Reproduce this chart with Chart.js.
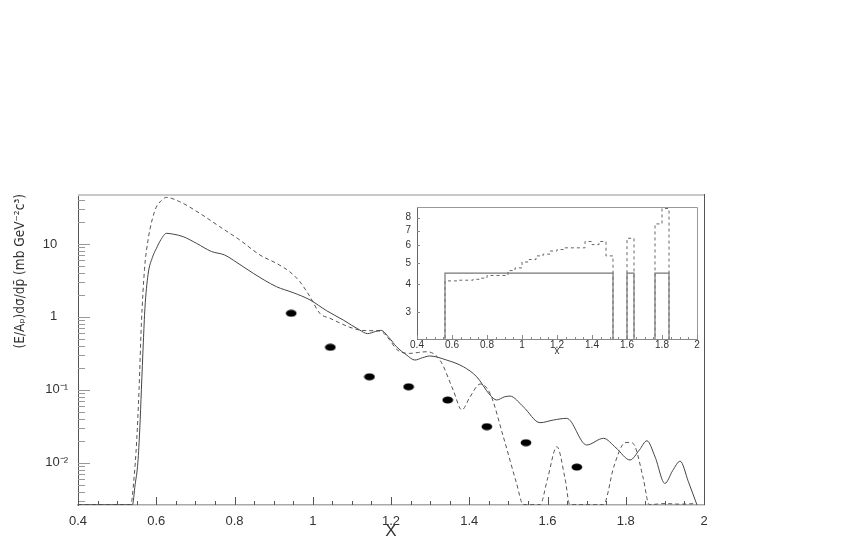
<!DOCTYPE html>
<html><head><meta charset="utf-8">
<script src="https://cdn.jsdelivr.net/npm/chart.js@4"></script>
<style>
html,body{margin:0;padding:0;background:#fff;}
#wrap{position:relative;width:845px;height:545px;overflow:hidden;}
#main{position:absolute;left:0;top:0;}
#inset{position:absolute;left:380px;top:195px;}
</style></head><body>
<div id="wrap"><canvas id="main" width="845" height="545"></canvas><canvas id="inset" width="330" height="165"></canvas></div>
<script>
// ---------- main plot data ----------
const solidX = [0.40,0.539,0.546,0.553,0.558,0.562,0.567,0.571,0.579,0.590,0.600,0.612,0.626,0.645,0.669,0.703,0.741,0.775,0.797,0.848,0.907,0.950,0.993,1.035,1.078,1.120,1.140,1.160,1.174,1.195,1.214,1.240,1.261,1.280,1.299,1.342,1.385,1.419,1.453,1.470,1.490,1.504,1.538,1.581,1.615,1.649,1.700,1.743,1.775,1.811,1.835,1.854,1.875,1.900,1.920,1.939,1.960,1.982];
const solidY = [0.00264,0.00264,0.005,0.010,0.030,0.10,0.45,1.30,3.8,6.5,8.6,11.5,14.0,13.6,12.6,10.2,7.9,7.06,6.0,3.96,2.6,2.15,1.71,1.22,0.906,0.66,0.59,0.63,0.655,0.52,0.39,0.30,0.256,0.275,0.291,0.256,0.207,0.151,0.085,0.0725,0.080,0.082,0.0587,0.0354,0.0385,0.0406,0.0175,0.0216,0.016,0.0109,0.015,0.020,0.012,0.0052,0.0078,0.0105,0.0055,0.00264];

const dashedX = [0.40,0.535,0.543,0.550,0.556,0.562,0.570,0.579,0.590,0.600,0.612,0.626,0.660,0.711,0.762,0.813,0.865,0.907,0.941,0.967,0.993,1.018,1.044,1.095,1.120,1.146,1.172,1.197,1.214,1.248,1.270,1.291,1.325,1.359,1.381,1.402,1.428,1.453,1.487,1.521,1.538,1.581,1.600,1.624,1.645,1.657,1.743,1.770,1.798,1.812,1.824,1.845,1.860,1.900,1.940,1.980];
const dashedY = [0.00266,0.00266,0.006,0.020,0.10,0.80,4.5,11.3,22,32,39,43.6,38,26.4,17.3,11.4,7.07,5.43,4.17,3.04,1.89,1.12,0.957,0.72,0.66,0.647,0.64,0.48,0.36,0.316,0.325,0.333,0.256,0.099,0.053,0.080,0.120,0.0895,0.0228,0.0052,0.00266,0.00266,0.006,0.0166,0.006,0.00266,0.00266,0.009,0.0188,0.019,0.0166,0.006,0.00266,0.00275,0.0027,0.00275];

const pointsX = [0.945,1.045,1.145,1.245,1.345,1.445,1.545,1.675];
const pointsY = [1.12,0.383,0.151,0.110,0.0724,0.0312,0.0188,0.0087];

const xTickValues = [0.4,0.6,0.8,1.0,1.2,1.4,1.6,1.8,2.0];
const xTickLabels = ['0.4','0.6','0.8','1','1.2','1.4','1.6','1.8','2'];
const yTickValues = [0.01,0.1,1,10];
const yTickLabels = ['10\u207B\u00B2','10\u207B\u00B9','1   ','10   '];
const yTitle = '(E/A\u209A)d\u03C3/dp\u0304 (mb GeV\u207B\u00B2c\u00B3)';
const xTitle = 'X';

// ---------- inset data (histograms, step at bin edges) ----------
const insetSolidX = [0.40,0.56,1.52,1.60,1.64,1.76,1.84,2.00];
const insetSolidY = [0,4.5,0,4.5,0,4.5,0,0];
const insetDashedX = [0.40,0.56,0.64,0.72,0.76,0.80,0.92,0.96,1.00,1.04,1.08,1.12,1.16,1.20,1.24,1.36,1.40,1.44,1.48,1.52,1.60,1.64,1.76,1.80,1.84,2.00];
const insetDashedY = [0,4.15,4.18,4.22,4.27,4.39,4.62,4.75,5.05,5.18,5.38,5.48,5.66,5.75,5.85,6.25,6.05,6.25,5.38,0,6.46,0,7.5,8.8,0,0];
const insetXTickValues = [0.4,0.6,0.8,1.0,1.2,1.4,1.6,1.8,2.0];
const insetXTickLabels = ['0.4','0.6','0.8','1','1.2','1.4','1.6','1.8','2'];
const insetYTickValues = [3,4,5,6,7,8];
const insetYTickLabels = ['3','4','5','6','7','8'];
const insetXTitle = 'x';

const FONT = "'Liberation Sans', Arial, Helvetica, sans-serif";
const TXT = '#333';

// ellipse marker
const dot = document.createElement('canvas');
dot.width = 12; dot.height = 8;
(function(){const c=dot.getContext('2d');c.fillStyle='#000';c.beginPath();c.ellipse(6,4,5.4,3.5,0,0,Math.PI*2);c.fill();})();

const zip = (xs, ys) => xs.map((x,i)=>({x:x, y:ys[i]}));

const mainFrame = {
  id:'mainFrame',
  afterDatasetsDraw(chart){
    const ctx = chart.ctx, a = chart.chartArea, xs = chart.scales.x, ys = chart.scales.y;
    ctx.save();
    ctx.strokeStyle = '#c8c8c8'; ctx.lineWidth = 2;
    ctx.beginPath(); ctx.moveTo(a.left, a.top+1); ctx.lineTo(a.right, a.top+1); ctx.stroke();
    ctx.strokeStyle = '#555'; ctx.lineWidth = 1;
    ctx.beginPath(); ctx.moveTo(a.right+0.5, a.top); ctx.lineTo(a.right+0.5, a.bottom); ctx.stroke();
    ctx.strokeStyle = '#999'; ctx.lineWidth = 1;
    for (let d=-3; d<=1; d++){
      for (let m=1; m<=9; m++){
        const v = m*Math.pow(10,d);
        if (v < ys.min || v > ys.max) continue;
        const py = Math.round(ys.getPixelForValue(v))+0.5;
        const len = m===1 ? 12 : 7;
        ctx.beginPath(); ctx.moveTo(a.left, py); ctx.lineTo(a.left+len, py); ctx.stroke();
      }
    }
    ctx.strokeStyle = '#555';
    for (let k=8; k<=40; k++){
      const v = k*0.05;
      const px = Math.round(xs.getPixelForValue(v))+0.5;
      const len = (k%4===0) ? 8 : 4;
      ctx.beginPath(); ctx.moveTo(px, a.bottom); ctx.lineTo(px, a.bottom-len); ctx.stroke();
    }
    ctx.restore();
  }
};

new Chart(document.getElementById('main'), {
  type:'line',
  data:{datasets:[
    {label:'solid', data:zip(solidX, solidY), borderColor:'#444', borderWidth:1, pointRadius:0, fill:false, cubicInterpolationMode:'monotone'},
    {label:'dashed', data:zip(dashedX, dashedY), borderColor:'#555', borderWidth:1, borderDash:[4,3], pointRadius:0, fill:false, cubicInterpolationMode:'monotone'},
    {label:'data', data:zip(pointsX, pointsY), showLine:false, pointStyle:dot, pointRadius:5, borderWidth:0, backgroundColor:'#000'}
  ]},
  options:{
    responsive:false, devicePixelRatio:1, animation:false,
    layout:{padding:{top:194, right:141, left:0, bottom:0}},
    plugins:{legend:{display:false}, tooltip:{enabled:false}},
    scales:{
      x:{type:'linear', min:0.4, max:2,
        afterBuildTicks:s=>{s.ticks = xTickValues.map(v=>({value:v}));},
        afterFit:s=>{s.height = 40;},
        ticks:{callback:(v,i)=>xTickLabels[i], autoSkip:false, maxRotation:0, padding:9, color:TXT, font:{family:FONT, size:13}},
        grid:{display:false, drawTicks:false},
        border:{display:true, color:'#aaa', width:1.5},
        title:{display:true, text:xTitle, color:TXT, font:{family:FONT, size:17}, padding:{top:0, bottom:3}}
      },
      y:{type:'logarithmic', min:0.00263, max:48.5,
        afterBuildTicks:s=>{s.ticks = yTickValues.map(v=>({value:v}));},
        afterFit:s=>{s.width = 78;},
        ticks:{callback:(v,i)=>yTickLabels[i], autoSkip:false, padding:10, color:TXT, font:{family:FONT, size:13}},
        grid:{display:false, drawTicks:false},
        border:{display:true, color:'#555', width:1},
        title:{display:true, text:yTitle, align:'end', color:TXT, font:{family:"'DejaVu Sans Condensed','Liberation Sans Narrow','DejaVu Sans',sans-serif", size:13.5}, padding:{top:12, bottom:0}}
      }
    }
  },
  plugins:[mainFrame]
});

const insetFrame = {
  id:'insetFrame',
  afterDatasetsDraw(chart){
    const ctx = chart.ctx, a = chart.chartArea, xs = chart.scales.x, ys = chart.scales.y;
    ctx.save();
    ctx.strokeStyle = '#999'; ctx.lineWidth = 1;
    ctx.beginPath(); ctx.moveTo(a.left, a.top+0.5); ctx.lineTo(a.right+0.5, a.top+0.5); ctx.lineTo(a.right+0.5, a.bottom); ctx.stroke();
    ctx.strokeStyle = '#888';
    insetYTickValues.forEach(v=>{
      const py = Math.round(ys.getPixelForValue(v))+0.5;
      ctx.beginPath(); ctx.moveTo(a.left, py); ctx.lineTo(a.left+3, py); ctx.stroke();
    });
    for (let k=8; k<=40; k++){
      const px = Math.round(xs.getPixelForValue(k*0.05))+0.5;
      const len = (k%4===0) ? 4 : 2;
      ctx.beginPath(); ctx.moveTo(px, a.bottom); ctx.lineTo(px, a.bottom-len); ctx.stroke();
    }
    ctx.restore();
  }
};

const low = v => v > 0 ? v : 1;
new Chart(document.getElementById('inset'), {
  type:'line',
  data:{datasets:[
    {label:'solid', data:insetSolidX.map((x,i)=>({x:x, y:low(insetSolidY[i])})), stepped:true, borderColor:'#777', borderWidth:1.2, pointRadius:0, fill:false},
    {label:'dashed', data:insetDashedX.map((x,i)=>({x:x, y:low(insetDashedY[i])})), stepped:true, borderColor:'#666', borderWidth:1, borderDash:[3,3], pointRadius:0, fill:false}
  ]},
  options:{
    responsive:false, devicePixelRatio:1, animation:false,
    layout:{padding:{top:4, right:13, left:0, bottom:0}},
    plugins:{legend:{display:false}, tooltip:{enabled:false}},
    scales:{
      x:{type:'linear', min:0.4, max:2,
        afterBuildTicks:s=>{s.ticks = insetXTickValues.map(v=>({value:v}));},
        afterFit:s=>{s.height = 21;},
        ticks:{callback:(v,i)=>insetXTickLabels[i], autoSkip:false, maxRotation:0, padding:0, color:TXT, font:{family:FONT, size:10}},
        grid:{display:false, drawTicks:false},
        border:{display:true, color:'#888', width:1},
        title:{display:true, text:insetXTitle, color:TXT, font:{family:FONT, size:10}, padding:{top:0, bottom:3}}
      },
      y:{type:'logarithmic', min:2.27, max:8.94,
        afterBuildTicks:s=>{s.ticks = insetYTickValues.map(v=>({value:v}));},
        afterFit:s=>{s.width = 37;},
        ticks:{callback:(v,i)=>insetYTickLabels[i], autoSkip:false, padding:6, color:TXT, font:{family:FONT, size:10}},
        grid:{display:false, drawTicks:false},
        border:{display:true, color:'#666', width:1}
      }
    }
  },
  plugins:[insetFrame]
});
</script>
</body></html>
